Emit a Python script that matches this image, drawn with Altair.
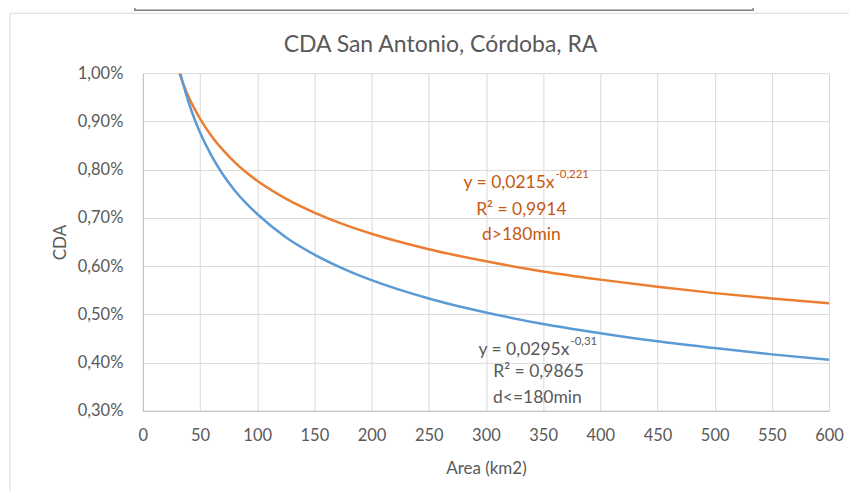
import altair as alt
import pandas as pd

# Curves (CDA in %)
area_orange = [32, 35, 40, 45, 50, 60, 70, 80, 90, 100, 125, 150, 175, 200, 250, 300, 350, 400, 450, 500, 550, 600]
cda_orange = [1.000, 0.980, 0.951, 0.927, 0.906, 0.870, 0.841, 0.816, 0.795, 0.777, 0.740, 0.711, 0.687, 0.667,
              0.635, 0.610, 0.589, 0.572, 0.557, 0.544, 0.533, 0.523]
area_blue = [33, 35, 40, 45, 50, 60, 70, 80, 90, 100, 125, 150, 175, 200, 250, 300, 350, 400, 450, 500, 550, 600]
cda_blue = [0.998, 0.980, 0.940, 0.906, 0.877, 0.829, 0.790, 0.758, 0.731, 0.708, 0.660, 0.624, 0.595, 0.571,
            0.533, 0.504, 0.480, 0.461, 0.444, 0.430, 0.417, 0.406]

series_names = ["d>180min", "d<=180min"]
series_colors = ["#ED7D31", "#5B9BD5"]

# Annotations (trendline labels)
ann_text = ["R² = 0,9914", "d>180min", "R² = 0,9865", "d<=180min"]
ann_x = [331, 331, 346, 345]
ann_y = [0.716, 0.664, 0.381, 0.327]
ann_color = ["#C65911", "#C65911", "#595959", "#595959"]

eq_base = ["y = 0,0215x", "y = 0,0295x"]
eq_sup = ["-0,221", "-0,31"]
eq_x = [360, 373]
eq_y = [0.772, 0.426]
eq_color = ["#C65911", "#595959"]

TITLE = "CDA San Antonio, Córdoba, RA"

FONT = "Lato"
GRAY = "#595959"

df = pd.concat([
    pd.DataFrame({"area": area_orange, "cda": cda_orange, "series": series_names[0]}),
    pd.DataFrame({"area": area_blue, "cda": cda_blue, "series": series_names[1]}),
])
ann_df = pd.DataFrame({"text": ann_text, "x": ann_x, "y": ann_y, "color": ann_color})
eq_df = pd.DataFrame({"base": eq_base, "sup": eq_sup, "x": eq_x, "y": eq_y, "color": eq_color})

xscale = alt.Scale(domain=[0, 600], nice=False, zero=False)
yscale = alt.Scale(domain=[0.3, 1.0], nice=False, zero=False)

# decorative frame and top box
frame = alt.Chart(alt.Data(values=[{}])).mark_rect(
    fillOpacity=0, stroke="#d9d9d9", strokeWidth=1
).encode(x=alt.value(-133), x2=alt.value(730), y=alt.value(-60), y2=alt.value(440))

topbox = alt.Chart(alt.Data(values=[{}])).mark_rect(
    fill="white", stroke="#7f7f7f", strokeWidth=1.5
).encode(x=alt.value(-8), x2=alt.value(611), y=alt.value(-90), y2=alt.value(-63))

title = alt.Chart(alt.Data(values=[{"t": TITLE}])).mark_text(
    font=FONT, fontSize=23, color=GRAY, baseline="middle", align="center"
).encode(x=alt.value(298), y=alt.value(-28), text="t:N")

lines = alt.Chart(df).mark_line(strokeWidth=2.5, clip=True, interpolate="monotone").encode(
    x=alt.X("area:Q", scale=xscale, title="Area (km2)",
            axis=alt.Axis(values=list(range(0, 601, 50)), ticks=False, labelPadding=17, labelFlush=False,
                          labelOverlap=False, titlePadding=16, domainColor="#bfbfbf", gridColor="#d9d9d9")),
    y=alt.Y("cda:Q", scale=yscale, title="CDA",
            axis=alt.Axis(values=[0.3, 0.4, 0.5, 0.6, 0.7, 0.8, 0.9, 1.0], ticks=False, labelPadding=20,
                          labelExpr="replace(format(datum.value, '.2f'), '.', ',') + '%'",
                          titlePadding=8, domainColor="#bfbfbf", gridColor="#d9d9d9")),
    color=alt.Color("series:N", scale=alt.Scale(domain=series_names, range=series_colors), legend=None),
    detail="series:N",
)

ann = alt.Chart(ann_df).mark_text(font=FONT, fontSize=17.5, baseline="middle", align="center").encode(
    x=alt.X("x:Q", scale=xscale), y=alt.Y("y:Q", scale=yscale), text="text:N",
    color=alt.Color("color:N", scale=None),
)
eq_main = alt.Chart(eq_df).mark_text(font=FONT, fontSize=17.5, baseline="middle", align="right").encode(
    x=alt.X("x:Q", scale=xscale), y=alt.Y("y:Q", scale=yscale), text="base:N",
    color=alt.Color("color:N", scale=None),
)
eq_supt = alt.Chart(eq_df).mark_text(font=FONT, fontSize=11.5, baseline="middle", align="left", dy=-8, dx=1).encode(
    x=alt.X("x:Q", scale=xscale), y=alt.Y("y:Q", scale=yscale), text="sup:N",
    color=alt.Color("color:N", scale=None),
)

chart = alt.layer(frame, topbox, title, lines, ann, eq_main, eq_supt).properties(
    width=687, height=338,
    autosize=alt.AutoSizeParams(type="none"),
    padding={"left": 135, "top": 65, "right": 20, "bottom": 80},
    background="white",
).configure_view(stroke=None).configure_axis(
    labelFont=FONT, titleFont=FONT, labelFontSize=16.5, titleFontSize=17, labelColor=GRAY, titleColor=GRAY,
    titleFontWeight="normal", gridWidth=1,
)

chart.save("out.html", embed_options={"renderer": "svg", "actions": False})
